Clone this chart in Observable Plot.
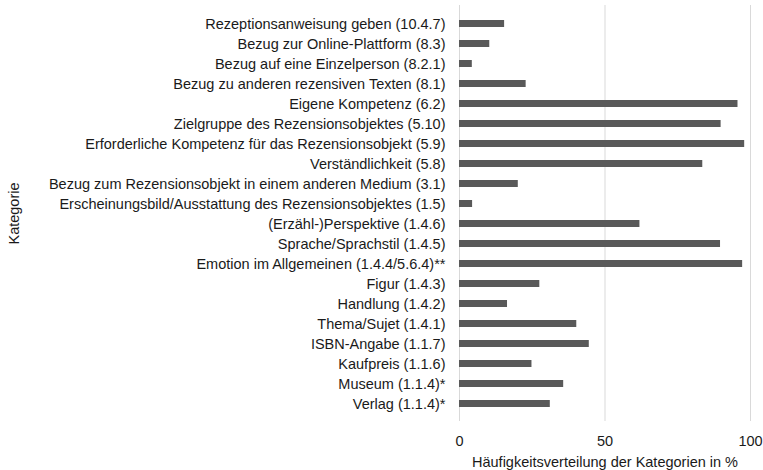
<!DOCTYPE html>
<html>
<head>
<meta charset="utf-8">
<script src="https://cdn.jsdelivr.net/npm/d3@7"></script>
<script src="https://cdn.jsdelivr.net/npm/@observablehq/plot@0.6"></script>
<style>
  body { margin: 0; background: #fff; }
  #chart svg, #chart svg text { font-family: "Liberation Sans", Arial, sans-serif; }
</style>
</head>
<body>
<div id="chart"></div>
<script>
const categories = [
  "Rezeptionsanweisung geben (10.4.7)",
  "Bezug zur Online-Plattform (8.3)",
  "Bezug auf eine Einzelperson (8.2.1)",
  "Bezug zu anderen rezensiven Texten (8.1)",
  "Eigene Kompetenz (6.2)",
  "Zielgruppe des Rezensionsobjektes (5.10)",
  "Erforderliche Kompetenz für das Rezensionsobjekt (5.9)",
  "Verständlichkeit (5.8)",
  "Bezug zum Rezensionsobjekt in einem anderen Medium (3.1)",
  "Erscheinungsbild/Ausstattung des Rezensionsobjektes (1.5)",
  "(Erzähl-)Perspektive (1.4.6)",
  "Sprache/Sprachstil (1.4.5)",
  "Emotion im Allgemeinen (1.4.4/5.6.4)**",
  "Figur (1.4.3)",
  "Handlung (1.4.2)",
  "Thema/Sujet (1.4.1)",
  "ISBN-Angabe (1.1.7)",
  "Kaufpreis (1.1.6)",
  "Museum (1.1.4)*",
  "Verlag (1.1.4)*"
];
const values = [15.5, 10.4, 4.4, 22.9, 95.7, 89.9, 98.0, 83.6, 20.2, 4.5, 62.0, 89.7, 97.3, 27.6, 16.5, 40.3, 44.6, 24.9, 35.8, 31.2];
const xTicks = [0, 50, 100];

const data = categories.map((c, i) => ({category: c, value: values[i]}));

const chart = Plot.plot({
  width: 763,
  height: 470,
  marginLeft: 459,
  marginRight: 13,
  marginTop: 5,
  marginBottom: 49,
  style: {fontSize: "14.5px", fontFamily: "'Liberation Sans', Arial, sans-serif", color: "#1a1a1a", background: "#fff"},
  x: {domain: [0, 100], ticks: xTicks, tickSize: 0, tickPadding: 14,
      label: "Häufigkeitsverteilung der Kategorien in %", labelAnchor: "center", labelArrow: "none", labelOffset: 45},
  y: {domain: categories, padding: 0.66, tickSize: 0, tickPadding: 14,
      label: "Kategorie", labelAnchor: "center", labelArrow: "none", labelOffset: 451},
  marks: [
    Plot.gridX(xTicks, {stroke: "#d9d9d9", strokeOpacity: 1}),
    Plot.barX(data, {x: "value", y: "category", fill: "#595959"})
  ]
});
document.getElementById("chart").appendChild(chart);
</script>
</body>
</html>
